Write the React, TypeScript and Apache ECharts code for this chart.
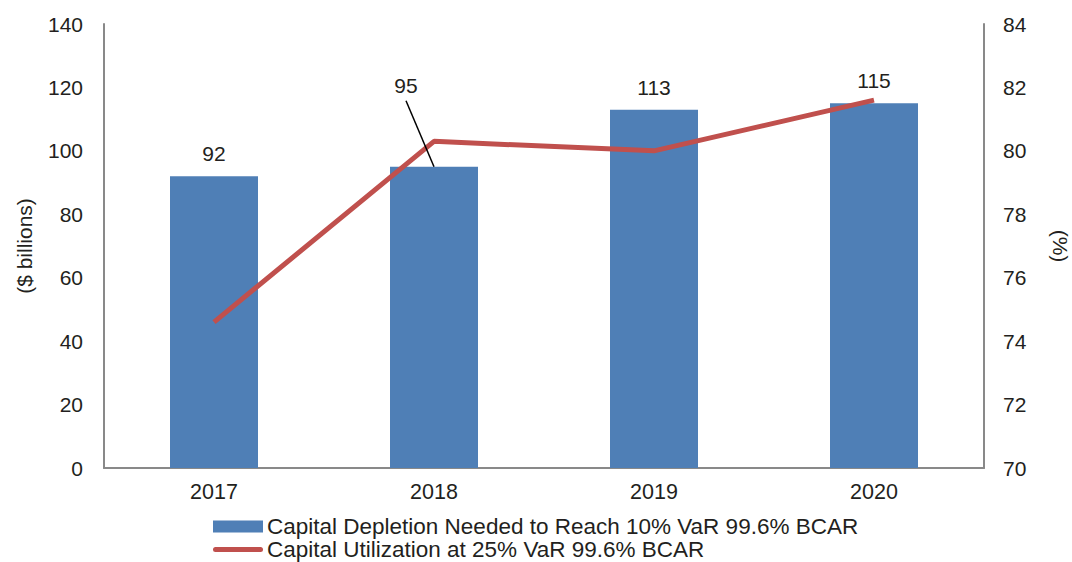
import React, { useEffect, useRef } from "react";
import * as echarts from "echarts";

const categories = ["2017", "2018", "2019", "2020"];
const depletion = [92, 95, 113, 115];
const utilization = [74.6, 80.3, 80.0, 81.6];
const barName = "Capital Depletion Needed to Reach 10% VaR 99.6% BCAR";
const lineName = "Capital Utilization at 25% VaR 99.6% BCAR";

const FONT = "Liberation Sans, Arial, sans-serif";
const TEXT = "#231f20";
// index of the bar whose label is pulled away with a leader line
const CALLOUT_INDEX = 1;

export default function App() {
  const ref = useRef<HTMLDivElement>(null);
  useEffect(() => {
    const chart = echarts.init(ref.current!, null, { renderer: "svg" });
    chart.setOption({
      animation: false,
      textStyle: { fontFamily: FONT, color: TEXT },
      grid: { left: 104, right: 88, top: 24, bottom: 94, outerBoundsMode: "none", containLabel: false },
      legend: {
        orient: "vertical",
        left: 213,
        top: 515,
        height: 80,
        padding: 0,
        itemWidth: 50,
        itemHeight: 12,
        itemGap: 0,
        textStyle: { fontSize: 22.5, lineHeight: 22, color: TEXT, fontFamily: FONT, padding: [0, 0, 0, -1] },
        data: [
          { name: barName, icon: "path://M0,0L50,0L50,12L0,12Z" },
          {
            name: lineName,
            icon: "path://M0,0L0,0M2.5,3.5L47.5,3.5A2.5,2.5,0,0,1,47.5,8.5L2.5,8.5A2.5,2.5,0,0,1,2.5,3.5ZM50,12L50,12",
          },
        ],
      },
      xAxis: {
        type: "category",
        data: categories,
        axisLine: { lineStyle: { color: "#898989", width: 2 } },
        axisTick: { show: false },
        axisLabel: { fontSize: 21.5, color: TEXT, margin: 13, fontFamily: FONT },
      },
      yAxis: [
        {
          type: "value",
          min: 0,
          max: 140,
          interval: 20,
          name: "($ billions)",
          nameLocation: "middle",
          nameGap: 69,
          nameTextStyle: { fontSize: 21, color: TEXT, fontFamily: FONT },
          axisLine: { show: true, lineStyle: { color: "#898989", width: 2 } },
          axisTick: { show: false },
          splitLine: { show: false },
          axisLabel: { fontSize: 21, color: TEXT, margin: 21, fontFamily: FONT },
        },
        {
          type: "value",
          min: 70,
          max: 84,
          interval: 2,
          name: "(%)",
          nameLocation: "middle",
          nameRotate: -90,
          nameGap: 66,
          nameTextStyle: { fontSize: 21, color: TEXT, fontFamily: FONT },
          axisLine: { show: true, lineStyle: { color: "#898989", width: 2 } },
          axisTick: { show: false },
          splitLine: { show: false },
          axisLabel: { fontSize: 21, color: TEXT, margin: 19, fontFamily: FONT },
        },
      ],
      series: [
        {
          name: barName,
          type: "bar",
          data: depletion,
          barWidth: "40%",
          itemStyle: { color: "#4f7fb6" },
          label: {
            show: true,
            position: "top",
            distance: 12,
            fontSize: 21,
            color: TEXT,
            fontFamily: FONT,
          },
          labelLine: { show: false },
          labelLayout: (p: any) =>
            p.dataIndex === CALLOUT_INDEX ? { dx: -28, dy: -59 } : {},
        },
        {
          name: lineName,
          type: "line",
          yAxisIndex: 1,
          data: utilization,
          symbol: "none",
          lineStyle: { color: "#c0504d", width: 5 },
          itemStyle: { color: "#c0504d" },
          z: 3,
        },
        {
          type: "custom",
          name: "leader",
          data: [[CALLOUT_INDEX, depletion[CALLOUT_INDEX]]],
          z: 4,
          silent: true,
          renderItem: (params: any, api: any) => {
            const p = api.coord([api.value(0), api.value(1)]);
            return {
              type: "line",
              shape: { x1: p[0], y1: p[1], x2: p[0] - 28, y2: p[1] - 66 },
              style: { stroke: "#000", lineWidth: 1.5 },
            };
          },
        },
      ],
    });
    return () => chart.dispose();
  }, []);
  return <div ref={ref} style={{ width: 1072, height: 562, position: "absolute", left: 0, top: 0 }} />;
}
